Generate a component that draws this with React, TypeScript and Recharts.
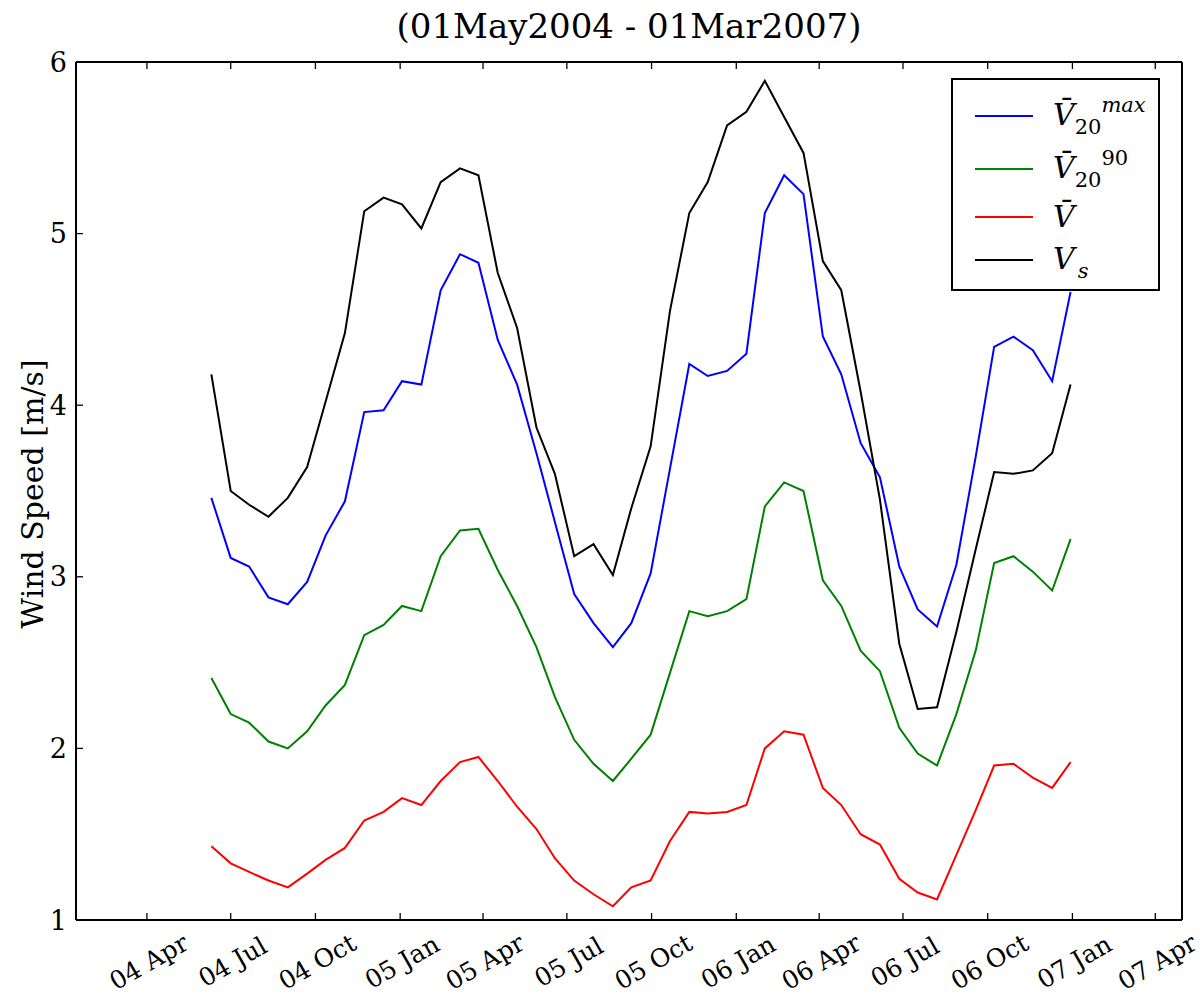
import { LineChart, Line, XAxis, YAxis, Legend } from "recharts";

// sample dates (roughly every three weeks)
const dates = [
  "2004-06-10", "2004-07-01", "2004-07-21", "2004-08-11", "2004-09-01", "2004-09-22",
  "2004-10-12", "2004-11-02", "2004-11-23", "2004-12-14", "2005-01-03", "2005-01-24",
  "2005-02-14", "2005-03-07", "2005-03-27", "2005-04-17", "2005-05-08", "2005-05-29",
  "2005-06-18", "2005-07-09", "2005-07-30", "2005-08-20", "2005-09-09", "2005-09-30",
  "2005-10-21", "2005-11-11", "2005-12-01", "2005-12-22", "2006-01-12", "2006-02-01",
  "2006-02-22", "2006-03-15", "2006-04-05", "2006-04-25", "2006-05-16", "2006-06-06",
  "2006-06-27", "2006-07-17", "2006-08-07", "2006-08-28", "2006-09-18", "2006-10-08",
  "2006-10-29", "2006-11-19", "2006-12-10", "2006-12-30",
];

const vMax = [
  3.46, 3.11, 3.06, 2.88, 2.84, 2.97, 3.24, 3.44, 3.96, 3.97, 4.14, 4.12,
  4.67, 4.88, 4.83, 4.38, 4.12, 3.72, 3.32, 2.9, 2.73, 2.59, 2.73, 3.02,
  3.63, 4.24, 4.17, 4.2, 4.3, 5.12, 5.34, 5.23, 4.4, 4.18, 3.78, 3.58,
  3.06, 2.81, 2.71, 3.07, 3.7, 4.34, 4.4, 4.32, 4.14, 4.66,
];

const v90 = [
  2.41, 2.2, 2.15, 2.04, 2.0, 2.1, 2.25, 2.37, 2.66, 2.72, 2.83, 2.8,
  3.12, 3.27, 3.28, 3.04, 2.83, 2.59, 2.3, 2.05, 1.91, 1.81, 1.94, 2.08,
  2.44, 2.8, 2.77, 2.8, 2.87, 3.41, 3.55, 3.5, 2.98, 2.83, 2.57, 2.45,
  2.12, 1.97, 1.9, 2.2, 2.57, 3.08, 3.12, 3.03, 2.92, 3.22,
];

const vMean = [
  1.43, 1.33, 1.28, 1.23, 1.19, 1.27, 1.35, 1.42, 1.58, 1.63, 1.71, 1.67,
  1.81, 1.92, 1.95, 1.81, 1.66, 1.53, 1.36, 1.23, 1.15, 1.08, 1.19, 1.23,
  1.46, 1.63, 1.62, 1.63, 1.67, 2.0, 2.1, 2.08, 1.77, 1.67, 1.5, 1.44,
  1.24, 1.16, 1.12, 1.38, 1.64, 1.9, 1.91, 1.83, 1.77, 1.92,
];

const vS = [
  4.18, 3.5, 3.42, 3.35, 3.46, 3.64, 4.02, 4.42, 5.13, 5.21, 5.17, 5.03,
  5.3, 5.38, 5.34, 4.77, 4.45, 3.87, 3.6, 3.12, 3.19, 3.01, 3.4, 3.76,
  4.55, 5.12, 5.3, 5.63, 5.71, 5.89, 5.68, 5.47, 4.84, 4.67, 4.08, 3.45,
  2.61, 2.23, 2.24, 2.68, 3.16, 3.61, 3.6, 3.62, 3.72, 4.12,
];

const xTicks = [
  "2004-04-01", "2004-07-01", "2004-10-01", "2005-01-01", "2005-04-01", "2005-07-01",
  "2005-10-01", "2006-01-01", "2006-04-01", "2006-07-01", "2006-10-01", "2007-01-01",
  "2007-04-01",
];
const xStart = "2004-01-15";
const xEnd = "2007-04-30";
const yTicks = [1, 2, 3, 4, 5, 6];

const MONTHS = ["Jan", "Feb", "Mar", "Apr", "May", "Jun", "Jul", "Aug", "Sep", "Oct", "Nov", "Dec"];

const seriesOrder = ["vMax", "v90", "vMean", "vS"];

const data = dates.map((d, i) => ({
  t: Date.parse(d),
  vMax: vMax[i],
  v90: v90[i],
  vMean: vMean[i],
  vS: vS[i],
}));

const tickValues = xTicks.map((d) => Date.parse(d));
const xDomain = [Date.parse(xStart), Date.parse(xEnd)];

const serif = '"DejaVu Serif", "Liberation Serif", serif';
const TICK = 7;

function fmtDate(t: number) {
  const d = new Date(t);
  return `${String(d.getUTCFullYear()).slice(2)} ${MONTHS[d.getUTCMonth()]}`;
}

// matplotlib-style ticks: short lines pointing into the plot
function BottomTick(props: any) {
  const { x, y, payload } = props;
  const cx = x + 2;
  const cy = y + 42;
  return (
    <g>
      <line x1={x} y1={y} x2={x} y2={y - TICK} stroke="#000" strokeWidth={1.3} />
      <text
        x={cx}
        y={cy}
        transform={`rotate(-30, ${cx}, ${cy})`}
        textAnchor="middle"
        dominantBaseline="central"
        fontFamily={serif}
        fontSize={25}
        fill="#000"
      >
        {fmtDate(payload.value)}
      </text>
    </g>
  );
}

function TopTick(props: any) {
  const { x, y } = props;
  return <line x1={x} y1={y} x2={x} y2={y + TICK} stroke="#000" strokeWidth={1.3} />;
}

function LeftTick(props: any) {
  const { x, y, payload } = props;
  return (
    <g>
      <line x1={x} y1={y} x2={x + TICK} y2={y} stroke="#000" strokeWidth={1.3} />
      <text
        x={x - 9}
        y={y}
        textAnchor="end"
        dominantBaseline="central"
        fontFamily={serif}
        fontSize={27}
        fill="#000"
      >
        {payload.value}
      </text>
    </g>
  );
}

function RightTick(props: any) {
  const { x, y } = props;
  return <line x1={x} y1={y} x2={x - TICK} y2={y} stroke="#000" strokeWidth={1.3} />;
}

const V = <span style={{ fontStyle: "italic" }}>V{"\u0304"}</span>;

const legendLabels: Record<string, any> = {
  vMax: (
    <>
      {V}
      <span style={{ fontSize: 21, position: "relative", top: 9 }}>20</span>
      <span style={{ fontSize: 21, fontStyle: "italic", position: "relative", top: -13 }}>max</span>
    </>
  ),
  v90: (
    <>
      {V}
      <span style={{ fontSize: 21, position: "relative", top: 9 }}>20</span>
      <span style={{ fontSize: 21, position: "relative", top: -13 }}>90</span>
    </>
  ),
  vMean: V,
  vS: (
    <>
      <span style={{ fontStyle: "italic" }}>V</span>
      <span style={{ fontSize: 21, fontStyle: "italic", position: "relative", top: 9, marginLeft: 3 }}>s</span>
    </>
  ),
};

const rowCenters = [36, 89, 137, 180];

function LegendBox(props: any) {
  const items = props.payload || [];
  const colorOf = (key: string) => {
    const it = items.find((p: any) => p.dataKey === key);
    return it ? it.color : "#000";
  };
  return (
    <div
      style={{
        width: 209,
        height: 213,
        border: "2px solid #000",
        background: "#fff",
        boxSizing: "border-box",
        position: "relative",
      }}
    >
      {seriesOrder.map((key, i) => (
        <div
          key={key}
          style={{
            position: "absolute",
            left: 22,
            top: rowCenters[i] - 22,
            height: 44,
            display: "flex",
            alignItems: "center",
            whiteSpace: "nowrap",
          }}
        >
          <div style={{ width: 58, height: 2.5, background: colorOf(key), marginRight: 20 }} />
          <div style={{ fontFamily: serif, fontSize: 30, lineHeight: "44px", color: "#000" }}>
            {legendLabels[key]}
          </div>
        </div>
      ))}
    </div>
  );
}

export default function App() {
  const axisLine = { stroke: "#000", strokeWidth: 2 };
  return (
    <div style={{ position: "absolute", left: 0, top: 0, width: 1200, height: 1000, background: "#fff" }}>
      <div
        style={{
          position: "absolute",
          left: 76,
          width: 1106,
          top: 8,
          textAlign: "center",
          fontFamily: serif,
          fontSize: 34,
          lineHeight: "36px",
          color: "#000",
        }}
      >
        (01May2004 - 01Mar2007)
      </div>
      <div
        style={{
          position: "absolute",
          left: 32,
          top: 494,
          transform: "translate(-50%, -50%) rotate(-90deg)",
          fontFamily: serif,
          fontSize: 30,
          whiteSpace: "nowrap",
          color: "#000",
        }}
      >
        Wind Speed [m/s]
      </div>
      <LineChart
        width={1200}
        height={1000}
        data={data}
        margin={{ top: 61, right: 17, bottom: 0, left: 0 }}
        style={{ position: "absolute", left: 0, top: 0 }}
      >
        <XAxis
          xAxisId="b"
          dataKey="t"
          type="number"
          scale="linear"
          domain={xDomain}
          ticks={tickValues}
          height={80}
          axisLine={axisLine}
          tickLine={false}
          tickSize={0}
          tickMargin={0}
          tick={<BottomTick />}
          interval={0}
        />
        <XAxis
          xAxisId="top"
          orientation="top"
          dataKey="t"
          type="number"
          scale="linear"
          domain={xDomain}
          ticks={tickValues}
          height={1}
          axisLine={axisLine}
          tickLine={false}
          tickSize={0}
          tickMargin={0}
          tick={<TopTick />}
          interval={0}
        />
        <YAxis
          yAxisId="l"
          type="number"
          domain={[1, 6]}
          ticks={yTicks}
          width={76}
          axisLine={axisLine}
          tickLine={false}
          tickSize={0}
          tickMargin={0}
          tick={<LeftTick />}
          interval={0}
        />
        <YAxis
          yAxisId="r"
          orientation="right"
          type="number"
          domain={[1, 6]}
          ticks={yTicks}
          width={1}
          axisLine={axisLine}
          tickLine={false}
          tickSize={0}
          tickMargin={0}
          tick={<RightTick />}
          interval={0}
        />
        <Legend
          layout="vertical"
          align="center"
          verticalAlign="middle"
          content={<LegendBox />}
          wrapperStyle={{ position: "absolute", top: 78, left: 951, width: 209, height: 213 }}
        />
        <Line xAxisId="b" yAxisId="l" type="linear" dataKey="vMax" stroke="#0000ff" strokeWidth={2} dot={false} isAnimationActive={false} />
        <Line xAxisId="b" yAxisId="l" type="linear" dataKey="v90" stroke="#008000" strokeWidth={2} dot={false} isAnimationActive={false} />
        <Line xAxisId="b" yAxisId="l" type="linear" dataKey="vMean" stroke="#ff0000" strokeWidth={2} dot={false} isAnimationActive={false} />
        <Line xAxisId="b" yAxisId="l" type="linear" dataKey="vS" stroke="#000000" strokeWidth={2} dot={false} isAnimationActive={false} />
      </LineChart>
    </div>
  );
}
